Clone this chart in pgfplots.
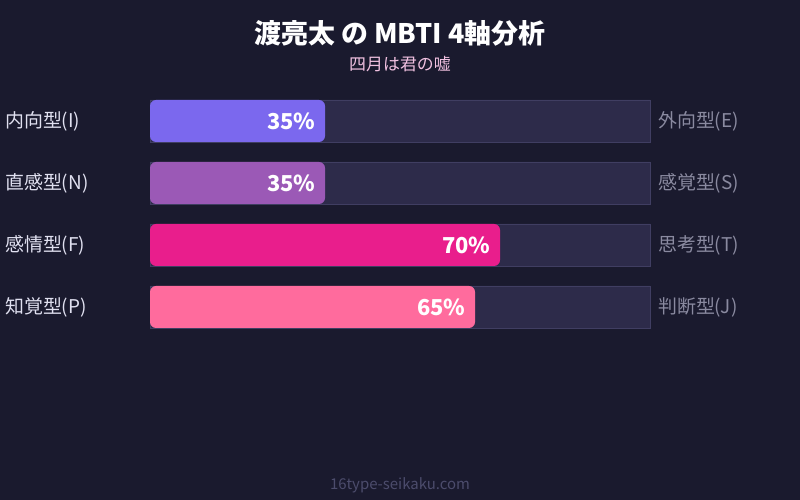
\documentclass[border=0pt]{standalone}
\usepackage{fontspec}
\setmainfont{Noto Sans CJK JP}
\usepackage{pgfplots}
\pgfplotsset{compat=1.18}

\definecolor{bg}{HTML}{1A1A2E}
\definecolor{track}{HTML}{2D2B4A}
\definecolor{trackline}{HTML}{403E62}
\definecolor{cI}{HTML}{7B68EE}
\definecolor{cN}{HTML}{9B59B6}
\definecolor{cF}{HTML}{E91E8C}
\definecolor{cP}{HTML}{FF6B9D}
\definecolor{lefttxt}{HTML}{E0E0F0}
\definecolor{righttxt}{HTML}{8A8AA0}
\definecolor{subtxt}{HTML}{F0C0E0}
\definecolor{foot}{HTML}{4C4C6C}

% one row per axis: value of the left pole in percent, y = bar centre in px from top
\pgfplotstableread{
y   v
121 35
183 35
245 70
307 65
}\mbti

\begin{document}
\begin{tikzpicture}
\begin{axis}[
    scale only axis,
    width=800bp, height=500bp,
    xmin=-30, xmax=130,
    ymin=0, ymax=500,
    y dir=reverse,
    hide axis,
    clip=false,
    xbar,
    bar width=42,
    bar shift=0pt,
    /pgf/number format/assume math mode=true,
]
\fill[bg] (axis cs:-30,0) rectangle (axis cs:130,500);

% background tracks
\addplot[fill=track, draw=trackline, line width=0.6bp] coordinates {(100,121) (100,183) (100,245) (100,307)};

% value bars
\addplot[fill=cI, draw=none, rounded corners=6bp] coordinates {(35,121)};
\addplot[fill=cN, draw=none, rounded corners=6bp] coordinates {(35,183)};
\addplot[fill=cF, draw=none, rounded corners=6bp] coordinates {(70,245)};
\addplot[fill=cP, draw=none, rounded corners=6bp] coordinates {(65,307)};

% percentage labels
\addplot[draw=none, fill=none,
    nodes near coords={\pgfmathprintnumber{\pgfplotspointmeta}\%},
    point meta=x,
    nodes near coords style={anchor=east, xshift=-6bp, text=white,
        font=\fontsize{22}{22}\selectfont\bfseries},
] table[x=v, y=y] {\mbti};

% titles
\node[text=white, font=\fontsize{27}{30}\selectfont\bfseries] at (axis cs:50,33) {渡亮太 の MBTI 4軸分析};
\node[text=subtxt, font=\fontsize{17}{18}\selectfont] at (axis cs:50,64) {四月は君の嘘};

% pole labels
\begin{scope}[every node/.style={font=\fontsize{19}{20}\selectfont, inner sep=0pt}]
\node[anchor=west, text=lefttxt] at (axis cs:-29,121) {内向型(I)};
\node[anchor=west, text=lefttxt] at (axis cs:-29,183) {直感型(N)};
\node[anchor=west, text=lefttxt] at (axis cs:-29,245) {感情型(F)};
\node[anchor=west, text=lefttxt] at (axis cs:-29,307) {知覚型(P)};
\node[anchor=west, text=righttxt] at (axis cs:101.6,121) {外向型(E)};
\node[anchor=west, text=righttxt] at (axis cs:101.6,183) {感覚型(S)};
\node[anchor=west, text=righttxt] at (axis cs:101.6,245) {思考型(T)};
\node[anchor=west, text=righttxt] at (axis cs:101.6,307) {判断型(J)};
\end{scope}

\node[text=foot, font=\fontsize{15}{16}\selectfont] at (axis cs:50,485) {16type-seikaku.com};
\end{axis}
\end{tikzpicture}
\end{document}
